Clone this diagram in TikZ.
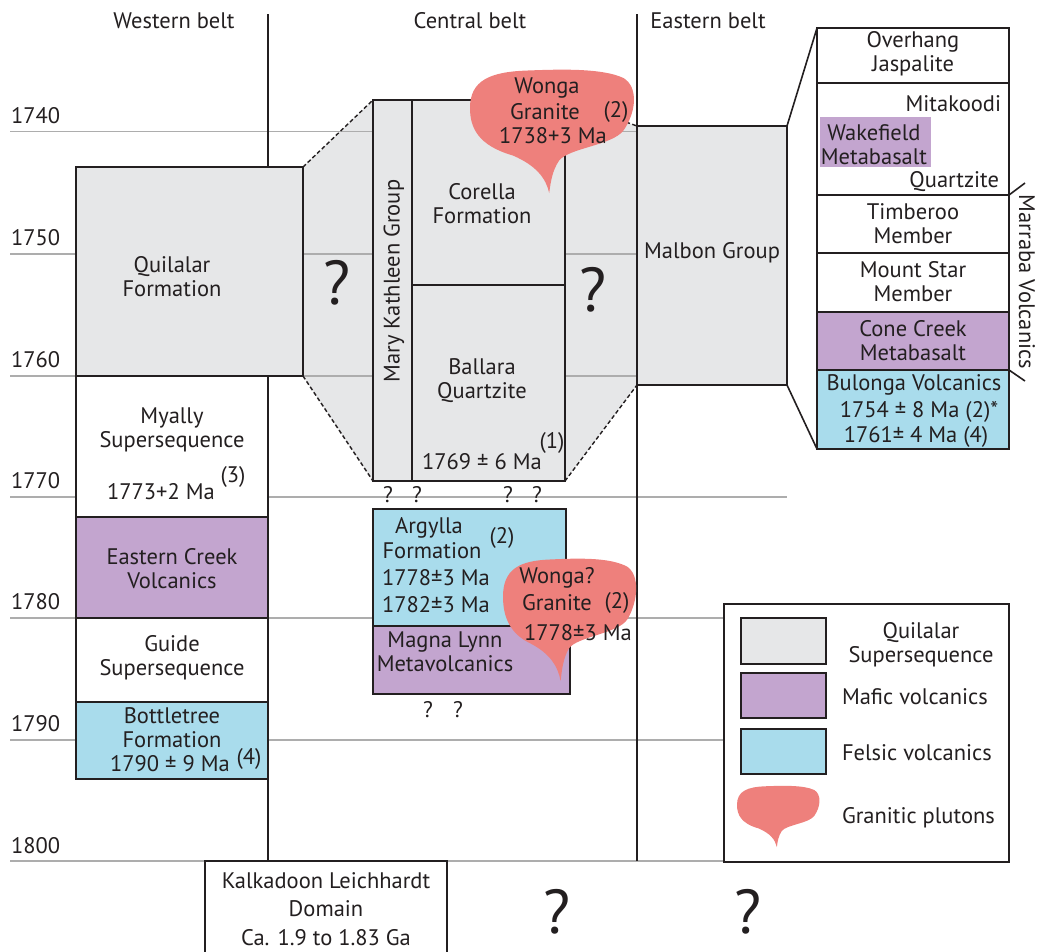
\documentclass[tikz,border=0pt]{standalone}
\usepackage{fontspec}
\setmainfont{PT Sans}
\definecolor{ink}{HTML}{231F20}
\definecolor{qgray}{HTML}{E6E7E8}
\definecolor{mafic}{HTML}{C3A5CF}
\definecolor{felsic}{HTML}{A9DCEC}
\definecolor{pluton}{HTML}{EE807C}
\definecolor{lgray}{HTML}{ADADAD}
\newcommand\rbox[7]{\node[bx,fill=#6,minimum width={#4-#2},minimum height={#5-#3}] (#1) at ({(#2+#4)/2},{(#3+#5)/2}) {#7};}
\newcommand\blobshape[5]{%
  \begin{scope}[shift={(#1,#2)},xscale=#3,yscale=#4]
  \fill[pluton] (#5,1) .. controls ({#5-0.02},0.88) and ({#5-0.08},0.78) .. ({#5-0.22},0.70)
    .. controls (0.05,0.62) and (0,0.48) .. (0,0.32)
    .. controls (0,0.1) and (0.12,0.03) .. (0.35,0.02)
    .. controls (0.55,0.01) and (0.8,0) .. (0.93,0.08)
    .. controls (1.02,0.15) and (1.01,0.35) .. (0.93,0.5)
    .. controls (0.86,0.62) and ({#5+0.12},0.64) .. ({#5+0.06},0.74)
    .. controls ({#5+0.02},0.82) and ({#5+0.01},0.9) .. (#5,1) -- cycle;
  \end{scope}}
\begin{document}
\begin{tikzpicture}[x=1pt,y=-1pt,
  every node/.style={text=ink,inner sep=0pt,outer sep=0pt,font=\fontsize{22.5}{24}\selectfont},
  bx/.style={draw=ink,line width=1.6pt,rectangle},
  gl/.style={draw=lgray,line width=1.6pt},
  bl/.style={draw=ink,line width=1.6pt},
  dl/.style={draw=ink,line width=1.4pt,dash pattern=on 4pt off 2.5pt},
  big/.style={font=\fontsize{62}{62}\selectfont},
  tc/.style={align=center}]
\useasboundingbox (0,0) rectangle (1041,951);
% gray fills of the uncertain wedges
\fill[qgray] (303,167) -- (373,100) -- (373,481) -- (303,376) -- cycle;
\fill[qgray] (565,100) -- (637,126) -- (637,385) -- (565,481) -- cycle;
% time lines
\draw[gl] (10,131.5) -- (637,131.5);
\draw[gl] (10,254) -- (637,254);
\draw[gl] (10,376) -- (637,376);
\draw[gl] (10,497) -- (787,497);
\draw[gl] (10,618) -- (724,618);
\draw[gl] (10,740) -- (724,740);
\draw[gl] (10,861) -- (1009,861);
\foreach \yy/\lab in {115.5/1740,238/1750,360/1760,481/1770,602/1780,724/1790,846/1800}
  \node[anchor=west] (yr\lab) at (11,\yy) {\lab};
% belt dividers
\draw[bl] (268,14) -- (268,861);
\draw[bl] (637,14) -- (637,861);
\node (hw) at (174,21) {Western belt};
\node (hc) at (470,21) {Central belt};
\node (he) at (708,21) {Eastern belt};
% western belt
\rbox{quil}{76}{167}{303}{376}{qgray}{}
\rbox{myal}{76}{376}{268}{517}{white}{}
\rbox{ecv}{76}{517}{268}{618}{mafic}{}
\rbox{guide}{76}{618}{268}{702}{white}{}
\rbox{bott}{76}{702}{268}{779}{felsic}{}
\node[tc] (tquil) at (172,277) {Quilalar\\Formation};
\node[tc] (tmyal) at (172,430) {Myally\\Supersequence};
\node (tmyald) at (161,492) {1773+2 Ma};
\node (tmyalr) at (233,477) {(3)};
\node[tc] (tecv) at (172,569) {Eastern Creek\\Volcanics};
\node[tc] (tguide) at (172,658) {Guide\\Supersequence};
\node[tc] (tbott) at (172,728) {Bottletree\\Formation};
\node (tbottd) at (170,764) {1790 ± 9 Ma};
\node (tbottr) at (249,759) {(4)};
% central belt
\rbox{mkg}{373}{100}{412}{481}{qgray}{}
\rbox{cor}{412}{100}{565}{285}{qgray}{}
\rbox{bal}{412}{285}{565}{481}{qgray}{}
\draw[dl] (quil.north east) -- (mkg.north west);
\draw[dl] (quil.south east) -- (mkg.south west);
\node[rotate=90] (tmkg) at (394,281) {Mary Kathleen Group};
\node[tc] (tcor) at (482,204) {Corella\\Formation};
\node[tc] (tbal) at (482,381) {Ballara\\Quartzite};
\node (tbald) at (482,462) {1769 ± 6 Ma};
\node (tbalr) at (552,443) {(1)};
\node[big] (q1) at (337,283) {?};
\node[big] (q2) at (593,290) {?};
\foreach \xx [count=\i] in {388,417,508,537} \node (qs\i) at (\xx,495) {?};
\rbox{arg}{373}{509}{566}{626}{felsic}{}
\rbox{mag}{373}{626}{570}{694}{mafic}{}
\node (targ1) at (429,528) {Argylla};
\node (targ2) at (432,551) {Formation};
\node (targr) at (502,538) {(2)};
\node (targ3) at (436,578) {1778±3 Ma};
\node (targ4) at (436,605) {1782±3 Ma};
\node[tc] (tmag) at (445,652) {Magna Lynn\\Metavolcanics};
\blobshape{503}{557}{134}{124}{0.43}
\node (twq1) at (557,578) {Wonga?};
\node (twq2) at (557,603) {Granite};
\node (twqr) at (617,603) {(2)};
\node (twq3) at (578,633) {1778±3 Ma};
\node (qb1) at (428,710) {?};
\node (qb2) at (458,710) {?};
% eastern belt
\rbox{mal}{637}{126}{787}{385}{qgray}{}
\draw[dl] (cor.north east) -- (mal.north west);
\draw[dl] (bal.south east) -- (mal.south west);
\node (tmal) at (712,253) {Malbon Group};
\blobshape{470}{68}{165}{125}{0.48}
\node (tw1) at (547,88) {Wonga};
\node (tw2) at (545,112) {Granite};
\node (twr) at (616,112) {(2)};
\node (tw3) at (553,136) {1738+3 Ma};
% Marraba column
\rbox{ovh}{817}{28}{1009}{83}{white}{}
\rbox{mit}{817}{83}{1009}{195}{white}{}
\node[fill=mafic,minimum width=111,minimum height=50] (wak) at (875.5,142) {};
\rbox{tim}{817}{195}{1009}{253}{white}{}
\rbox{mst}{817}{253}{1009}{312}{white}{}
\rbox{ccm}{817}{312}{1009}{370}{mafic}{}
\rbox{bul}{817}{370}{1009}{449}{felsic}{}
\draw[bl] (mal.north east) -- (ovh.north west);
\draw[bl] (mal.south east) -- (bul.south west);
\draw[bl] (mit.south east) -- ++(16,-12) coordinate (mtop);
\draw[bl] (ccm.south east) -- ++(16,11) coordinate (mbot);
\node[rotate=-90] (tmar) at (1027,282) {Marraba Volcanics};
\node[tc] (tovh) at (913,54) {Overhang\\Jaspalite};
\node[anchor=east] (tmit1) at (1001,104) {Mitakoodi};
\node[tc] (twak) at (874,145) {Wakefield\\Metabasalt};
\node[anchor=east] (tmit2) at (999,182) {Quartzite};
\node[tc] (ttim) at (913,224) {Timberoo\\Member};
\node[tc] (tmst) at (913,282) {Mount Star\\Member};
\node[tc] (tccm) at (913,341) {Cone Creek\\Metabasalt};
\node (tbul1) at (914,385) {Bulonga Volcanics};
\node (tbul2) at (919,412) {1754 ± 8 Ma (2)*};
\node (tbul3) at (916,437) {1761± 4 Ma (4)};
% legend
\rbox{leg}{724}{604}{1009}{862}{white}{}
\rbox{sw1}{741}{618}{826}{664}{qgray}{}
\rbox{sw2}{741}{673}{826}{718}{mafic}{}
\rbox{sw3}{741}{729}{826}{774}{felsic}{}
\blobshape{737}{785}{83}{62}{0.48}
\node[tc] (l1) at (921,645) {Quilalar\\Supersequence};
\node[anchor=west] (l2) at (842,697) {Mafic volcanics};
\node[anchor=west] (l3) at (842,753) {Felsic volcanics};
\node[anchor=west] (l4) at (842,818) {Granitic plutons};
% bottom
\rbox{kal}{205}{861}{447}{965}{white}{}
\node[tc,font=\fontsize{22.5}{28.5}\selectfont] (tkal) at (326,909) {Kalkadoon Leichhardt\\Domain\\Ca. 1.9 to 1.83 Ga};
\node[big] (q3) at (557,912) {?};
\node[big] (q4) at (748,912) {?};
\end{tikzpicture}
\end{document}
